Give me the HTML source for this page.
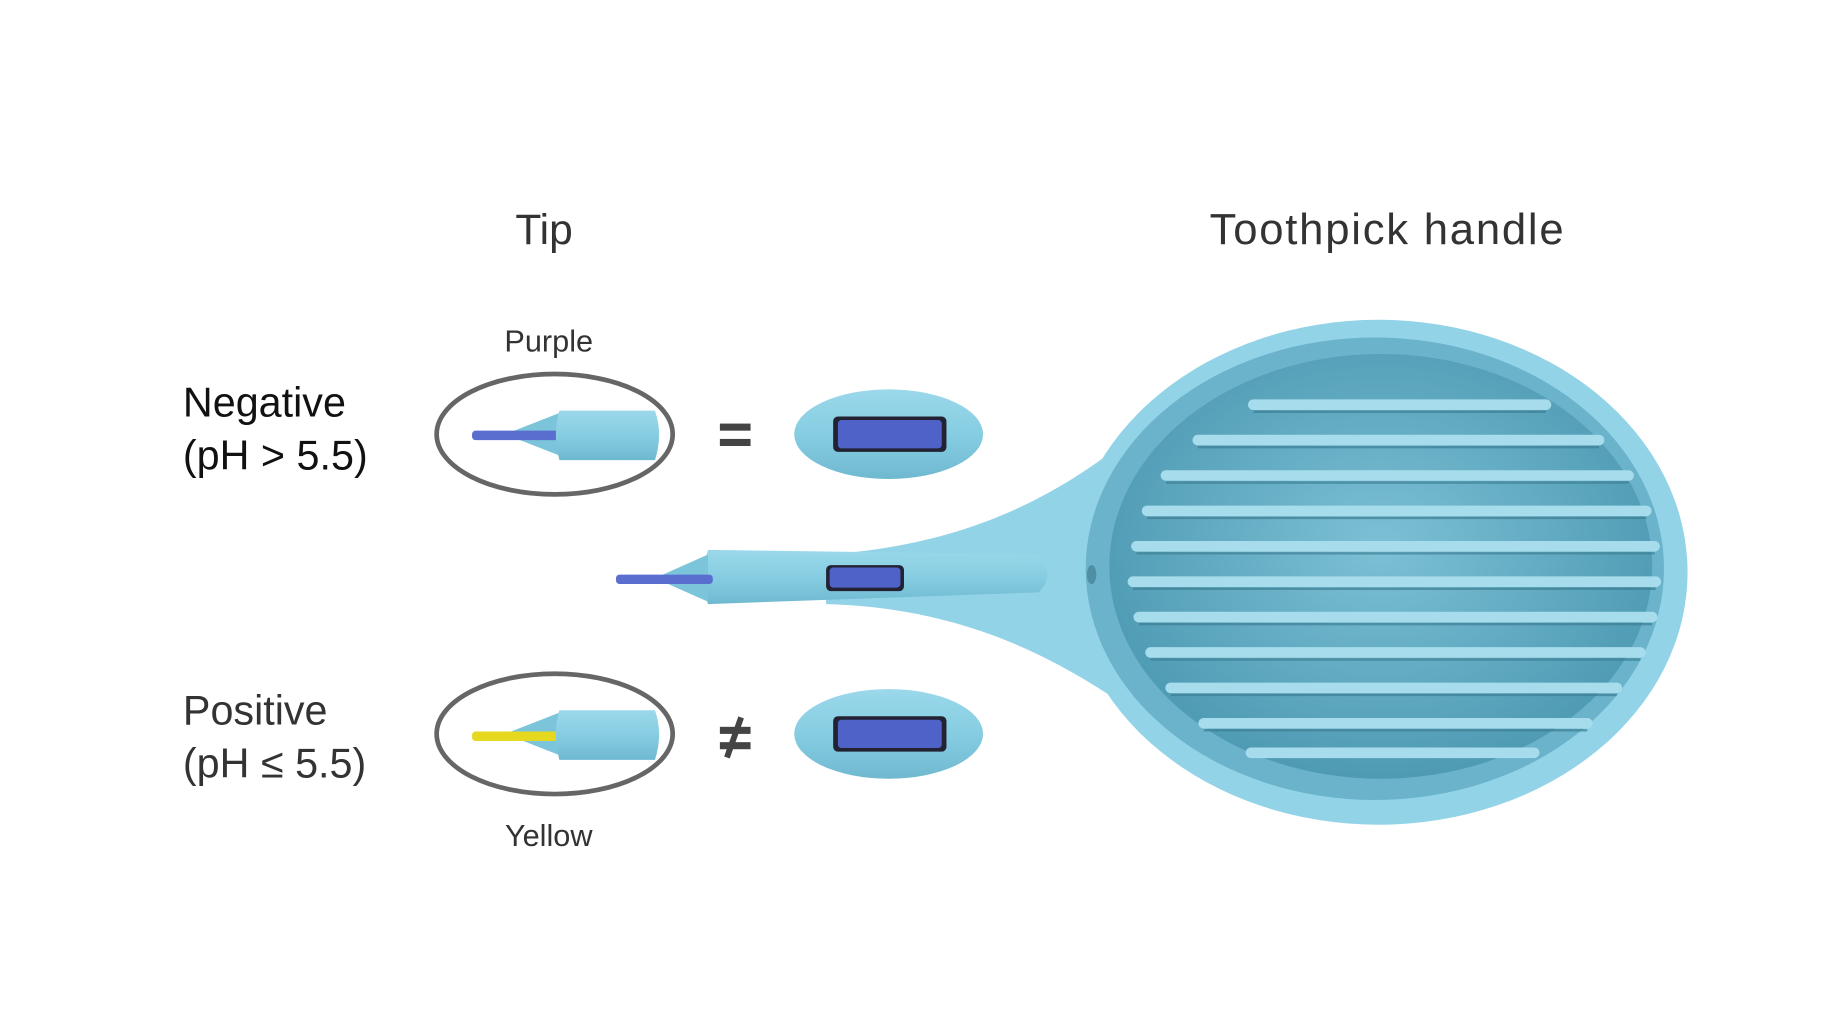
<!DOCTYPE html>
<html><head><meta charset="utf-8"><style>
html,body{margin:0;padding:0;background:#fff;width:1841px;height:1010px;overflow:hidden}
svg{display:block}
text{font-family:"Liberation Sans",sans-serif;fill:#333}
</style></head><body>
<svg width="1841" height="1010" viewBox="0 0 1560 856" preserveAspectRatio="none">
<defs>
<linearGradient id="stick" x1="0" y1="0" x2="0" y2="1">
<stop offset="0" stop-color="#9bd8ea"/><stop offset="0.5" stop-color="#86cde2"/><stop offset="1" stop-color="#6fb9d0"/>
</linearGradient>
<radialGradient id="inner" cx="0.5" cy="0.45" r="0.6">
<stop offset="0" stop-color="#7cc0d5"/><stop offset="1" stop-color="#4a97b0"/>
</radialGradient>
</defs>
<text x="461" y="207" font-size="36" text-anchor="middle">Tip</text>
<text x="1025" y="207" font-size="37" textLength="300">Toothpick handle</text>
<text x="465" y="298" font-size="26" text-anchor="middle">Purple</text>
<text x="465" y="717" font-size="26" text-anchor="middle">Yellow</text>
<text x="155" y="353" font-size="35" style="fill:#111">Negative</text>
<text x="155" y="398" font-size="35" style="fill:#111">(pH &gt; 5.5)</text>
<text x="155" y="614" font-size="35">Positive</text>
<text x="155" y="659" font-size="35">(pH ≤ 5.5)</text>

<ellipse cx="470" cy="368" rx="100" ry="51" fill="none" stroke="#666" stroke-width="4"/>
<path d="M428 368 L474 350 L474 386 Z" fill="#7cc4da"/>
<rect x="400" y="365" width="80" height="8" rx="3" fill="#5a6ed0"/>
<path d="M474 348 L555 348 Q562 368 555 390 L474 390 Q468 368 474 348Z" fill="url(#stick)"/>
<ellipse cx="470" cy="622" rx="100" ry="51" fill="none" stroke="#666" stroke-width="4"/>
<path d="M428 622 L474 604 L474 640 Z" fill="#7cc4da"/>
<rect x="400" y="620" width="80" height="8" rx="3" fill="#e6d81e"/>
<path d="M474 602 L555 602 Q562 622 555 644 L474 644 Q468 622 474 602Z" fill="url(#stick)"/>

<rect x="610" y="359" width="26" height="6" fill="#444"/>
<rect x="610" y="372" width="26" height="6" fill="#444"/>
<rect x="610" y="616" width="26" height="6" fill="#444"/>
<rect x="610" y="629" width="26" height="6" fill="#444"/>
<line x1="628" y1="608" x2="616" y2="642" stroke="#444" stroke-width="5"/>

<ellipse cx="753" cy="368" rx="80" ry="38" fill="url(#stick)"/>
<rect x="706" y="353" width="96" height="30" rx="4" fill="#223"/>
<rect x="710" y="356" width="88" height="24" rx="3" fill="#4f62c8"/>
<ellipse cx="753" cy="622" rx="80" ry="38" fill="url(#stick)"/>
<rect x="706" y="607" width="96" height="30" rx="4" fill="#223"/>
<rect x="710" y="610" width="88" height="24" rx="3" fill="#4f62c8"/>

<path d="M700 470 C820 462 900 420 968 362 L1010 362 L1010 608 L968 608 C900 560 820 515 700 512 Z" fill="#93d3e7"/>
<path d="M600 466 L880 470 Q895 488 880 502 L600 512 Q592 490 600 466Z" fill="url(#stick)"/>
<path d="M555 490 L600 470 L600 510 Z" fill="#7cc4da"/>
<rect x="522" y="487" width="82" height="8" rx="3" fill="#5a6ed0"/>
<rect x="700" y="479" width="66" height="22" rx="4" fill="#223"/>
<rect x="703" y="481" width="60" height="17" rx="3" fill="#4f62c8"/>

<ellipse cx="1168" cy="485" rx="262" ry="214" fill="#92d3e7"/>
<ellipse cx="1165" cy="482" rx="245" ry="196" fill="#6ab3ca"/>
<ellipse cx="1170" cy="480" rx="230" ry="180" fill="url(#inner)"/>
<g stroke="#a6dcec" stroke-width="9" stroke-linecap="round">
<line x1="1062" y1="343" x2="1310" y2="343"/>
<line x1="1015" y1="373" x2="1355" y2="373"/>
<line x1="988" y1="403" x2="1380" y2="403"/>
<line x1="972" y1="433" x2="1395" y2="433"/>
<line x1="963" y1="463" x2="1402" y2="463"/>
<line x1="960" y1="493" x2="1403" y2="493"/>
<line x1="965" y1="523" x2="1400" y2="523"/>
<line x1="975" y1="553" x2="1390" y2="553"/>
<line x1="992" y1="583" x2="1370" y2="583"/>
<line x1="1020" y1="613" x2="1345" y2="613"/>
<line x1="1060" y1="638" x2="1300" y2="638"/>
</g>
<g stroke="#3f7f94" stroke-width="2" opacity="0.7">
<line x1="1062" y1="349" x2="1310" y2="349"/>
<line x1="1015" y1="379" x2="1355" y2="379"/>
<line x1="988" y1="409" x2="1380" y2="409"/>
<line x1="972" y1="439" x2="1395" y2="439"/>
<line x1="963" y1="469" x2="1402" y2="469"/>
<line x1="960" y1="499" x2="1403" y2="499"/>
<line x1="965" y1="529" x2="1400" y2="529"/>
<line x1="975" y1="559" x2="1390" y2="559"/>
<line x1="992" y1="589" x2="1370" y2="589"/>
<line x1="1020" y1="619" x2="1345" y2="619"/>
</g>
<ellipse cx="925" cy="487" rx="4" ry="8" fill="#4f8fa5"/>
</svg>
</body></html>
